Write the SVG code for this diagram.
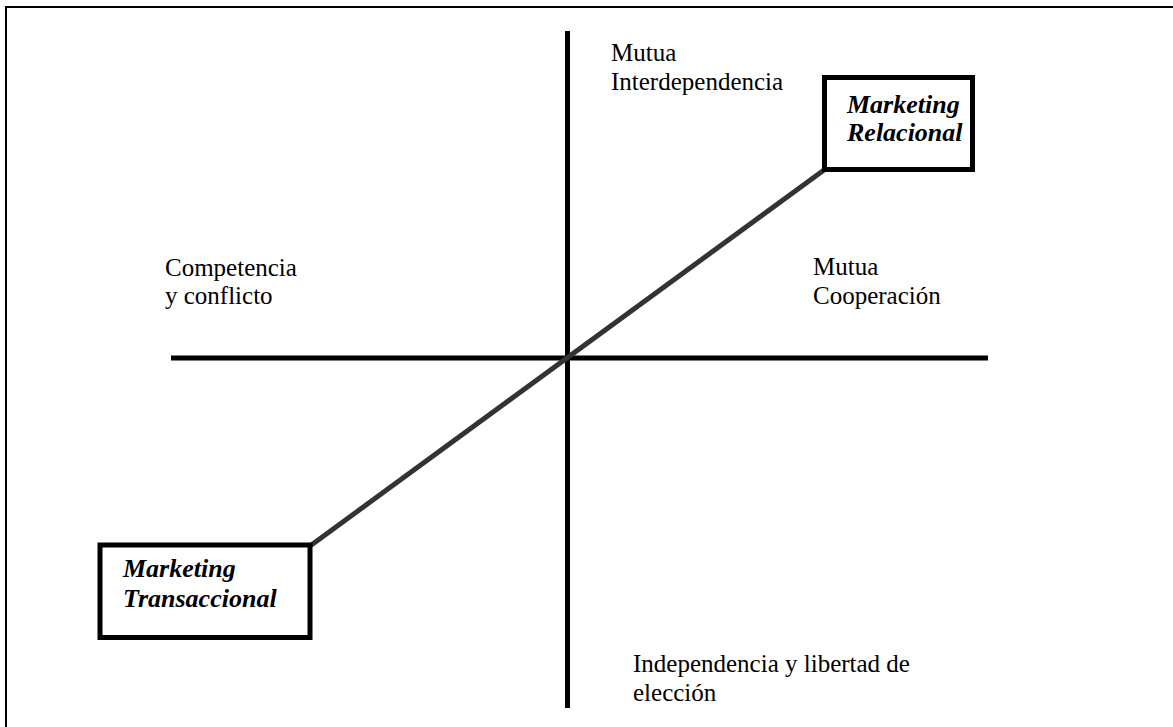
<svg xmlns="http://www.w3.org/2000/svg" width="1173" height="727" viewBox="0 0 1173 727">
  <style>
    .axis { stroke: #000; stroke-width: 5; fill: none; }
    .box { stroke: #000; stroke-width: 5; fill: #fff; }
  </style>
  <rect width="1173" height="727" fill="#fff"/>
  <!-- frame: top and left edges only -->
  <path d="M6,727 V7 H1173" fill="none" stroke="#000" stroke-width="2"/>

  <g id="connectors">
    <line class="axis" x1="567.5" y1="31" x2="567.5" y2="708"/>
    <line class="axis" x1="171" y1="358" x2="988" y2="358"/>
    <line x1="824" y1="170" x2="310" y2="546" stroke="#333" stroke-width="5"/>
  </g>

  <g id="label-interdependencia">
    <text font-family="'Liberation Serif', 'Times New Roman', serif" font-size="25" x="611" y="61">Mutua</text>
    <text font-family="'Liberation Serif', 'Times New Roman', serif" font-size="25" x="611" y="90">Interdependencia</text>
  </g>
  <g id="label-competencia">
    <text font-family="'Liberation Serif', 'Times New Roman', serif" font-size="25" x="165" y="276">Competencia</text>
    <text font-family="'Liberation Serif', 'Times New Roman', serif" font-size="25" x="165" y="304">y conflicto</text>
  </g>
  <g id="label-cooperacion">
    <text font-family="'Liberation Serif', 'Times New Roman', serif" font-size="25" x="813" y="275">Mutua</text>
    <text font-family="'Liberation Serif', 'Times New Roman', serif" font-size="25" x="813" y="304">Cooperación</text>
  </g>
  <g id="label-independencia">
    <text font-family="'Liberation Serif', 'Times New Roman', serif" font-size="25" x="633" y="672">Independencia  y libertad de</text>
    <text font-family="'Liberation Serif', 'Times New Roman', serif" font-size="25" x="633" y="701">elección</text>
  </g>

  <g id="node-relacional">
    <rect class="box" x="824.5" y="77.5" width="148" height="92"/>
    <text font-family="'Liberation Serif', 'Times New Roman', serif" font-size="26" font-weight="bold" font-style="italic" x="847" y="113">Marketing</text>
    <text font-family="'Liberation Serif', 'Times New Roman', serif" font-size="26" font-weight="bold" font-style="italic" x="847" y="141">Relacional</text>
  </g>
  <g id="node-transaccional">
    <rect class="box" x="100" y="545" width="210" height="92.5"/>
    <text font-family="'Liberation Serif', 'Times New Roman', serif" font-size="26" font-weight="bold" font-style="italic" x="123" y="577">Marketing</text>
    <text font-family="'Liberation Serif', 'Times New Roman', serif" font-size="26" font-weight="bold" font-style="italic" x="123" y="607">Transaccional</text>
  </g>
</svg>
